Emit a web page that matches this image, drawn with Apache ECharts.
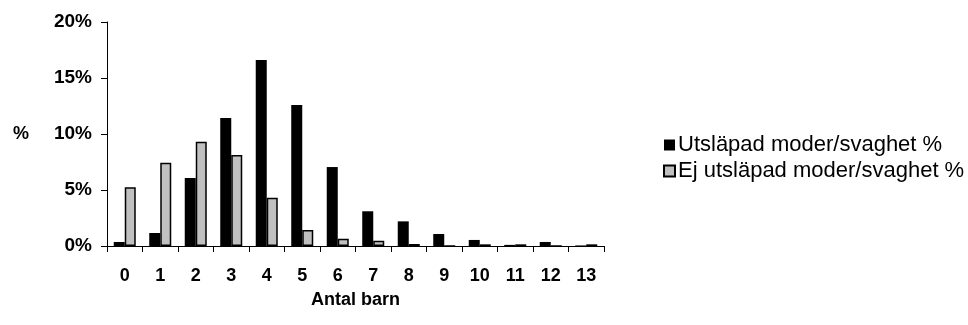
<!DOCTYPE html>
<html>
<head>
<meta charset="utf-8">
<script src="https://cdn.jsdelivr.net/npm/echarts@6/dist/echarts.min.js"></script>
<style>
  html, body { margin: 0; padding: 0; background: #fff; }
  #chart { width: 968px; height: 325px; }
</style>
</head>
<body>
<div id="chart"></div>
<script>
// kategorier (antal barn)
const categories = ['0', '1', '2', '3', '4', '5', '6', '7', '8', '9', '10', '11', '12', '13'];
// andelar
const utslapad = [0.0036, 0.0116, 0.0607, 0.1143, 0.166, 0.1259, 0.0705, 0.031, 0.022, 0.0107, 0.0054, 0.001, 0.0036, 0.0005];
const ejUtslapad = [0.0524, 0.0744, 0.0931, 0.0813, 0.0431, 0.0143, 0.0065, 0.0047, 0.0018, 0, 0.0015, 0.0015, 0, 0.0015];
const seriesNames = ['Utsläpad moder/svaghet %', 'Ej utsläpad moder/svaghet %'];

const font = 'Arial, "Liberation Sans", sans-serif';
const chart = echarts.init(document.getElementById('chart'));

chart.setOption({
  animation: false,
  textStyle: { fontFamily: font },
  grid: { left: 107, right: 364, top: 22, bottom: 79 },
  legend: {
    orient: 'vertical',
    left: 663,
    top: 134,
    padding: 0,
    itemWidth: 11,
    itemHeight: 11,
    itemGap: 4,
    icon: 'rect',
    textStyle: { fontSize: 22, color: '#000', fontFamily: font, padding: [0, 0, 0, -2] },
    data: seriesNames
  },
  xAxis: {
    type: 'category',
    data: categories,
    name: 'Antal barn',
    nameLocation: 'middle',
    nameGap: 45,
    nameTextStyle: { fontSize: 18, fontWeight: 'bold', color: '#000' },
    axisLine: { lineStyle: { color: '#000', width: 1 } },
    axisTick: { show: true, length: 6, lineStyle: { color: '#000' } },
    axisLabel: { fontSize: 18, fontWeight: 'bold', color: '#000', margin: 21 }
  },
  yAxis: {
    type: 'value',
    min: 0,
    max: 0.2,
    interval: 0.05,
    name: '%',
    nameLocation: 'middle',
    nameRotate: 0,
    nameGap: 78,
    nameTextStyle: { fontSize: 18, fontWeight: 'bold', color: '#000' },
    axisLine: { show: true, lineStyle: { color: '#000', width: 1 } },
    axisTick: { show: true, length: 6, lineStyle: { color: '#000' } },
    splitLine: { show: false },
    axisLabel: {
      fontSize: 19,
      fontWeight: 'bold',
      color: '#000',
      margin: 15,
      formatter: v => Math.round(v * 100) + '%'
    }
  },
  series: [
    {
      name: seriesNames[0],
      type: 'bar',
      data: utslapad,
      barGap: '0%',
      barCategoryGap: '38%',
      itemStyle: { color: '#000' }
    },
    {
      name: seriesNames[1],
      type: 'bar',
      data: ejUtslapad,
      itemStyle: { color: '#c0c0c0', borderColor: '#000', borderWidth: 1.5 }
    }
  ]
});
</script>
</body>
</html>
